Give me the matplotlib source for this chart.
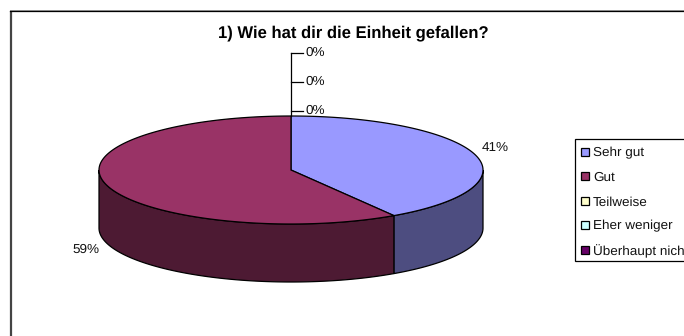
import numpy as np
import matplotlib
matplotlib.use("Agg")
import matplotlib.pyplot as plt
from matplotlib.patches import Polygon, Rectangle

plt.rcParams['font.family'] = ['Liberation Sans', 'DejaVu Sans']
plt.rcParams['text.hinting'] = 'no_hinting'

categories = ['Sehr gut', 'Gut', 'Teilweise', 'Eher weniger', 'Überhaupt nicht']
values = [41, 59, 0, 0, 0]
pct_labels = ['41%', '59%', '0%', '0%', '0%']
top_colors = ['#9999FF', '#993366', '#FFFFCC', '#CCFFFF', '#660066']
side_colors = ['#4D4D80', '#4D1A33', '#808066', '#668080', '#330033']
title = '1) Wie hat dir die Einheit gefallen?'

# pie geometry in pixels
cx, cy = 291, 170
rx, ry = 192, 54
depth = 58

fig = plt.figure(figsize=(6.84, 3.36), dpi=100)
ax = fig.add_axes([0, 0, 1, 1])
ax.set_xlim(0, 684)
ax.set_ylim(336, 0)
ax.axis('off')

# chart frame, only left and top edges are visible
ax.plot([11, 11], [11, 336], color='#444444', lw=1.6, solid_capstyle='butt')
ax.plot([10, 684], [9.5, 9.5], color='#999999', lw=0.7)
ax.plot([10, 684], [10.5, 10.5], color='black', lw=0.9)


def rim(t0, t1):
    t = np.radians(np.linspace(t0, t1, 200))
    return cx + rx * np.sin(t), cy - ry * np.cos(t)


edges = np.cumsum([0] + values) / sum(values) * 360

# side walls first, only the front half of the rim shows
for i, v in enumerate(values):
    if v == 0:
        continue
    t0 = max(edges[i], 90)
    t1 = min(edges[i + 1], 270)
    x, y = rim(t0, t1)
    pts = np.vstack([np.c_[x, y], np.c_[x[::-1], y[::-1] + depth]])
    ax.add_patch(Polygon(pts, closed=True, fc=side_colors[i], ec='black', lw=0.9))

# top slices
for i, v in enumerate(values):
    if v == 0:
        continue
    x, y = rim(edges[i], edges[i + 1])
    pts = np.vstack([[cx, cy], np.c_[x, y]])
    ax.add_patch(Polygon(pts, closed=True, fc=top_colors[i], ec='black', lw=0.9))

# leader lines of the empty slices
tick_y = [111, 82, 53]
ax.plot([cx, cx], [cy - ry, tick_y[-1]], color='black', lw=0.9)
for yy, lab in zip(tick_y, pct_labels[2:]):
    ax.plot([cx, cx + 12], [yy, yy], color='black', lw=0.9)
    ax.text(cx + 14, yy, lab, fontsize=9.7, va='center', ha='left', color='#111111')

ax.text(495, 148, pct_labels[0], fontsize=9.7, va='center', ha='center', color='#111111')
ax.text(86, 250, pct_labels[1], fontsize=9.7, va='center', ha='center', color='#111111')

ax.text(353.5, 33, title, fontsize=11.95, fontweight='bold', va='center', ha='center', color='black')

# legend box runs past the right edge of the figure
ax.add_patch(Rectangle((575, 139), 130, 122, fc='white', ec='black', lw=0.9))
legend_y = [152, 176, 201, 225, 250]
for yy, name, col in zip(legend_y, categories, top_colors):
    ax.add_patch(Rectangle((581, yy - 4), 7.5, 8, fc=col, ec='black', lw=0.9))
    ax.text(593, yy, name, fontsize=9.7, va='center_baseline', ha='left', color='#111111')

fig.savefig('out.png', dpi=100, facecolor='white')
